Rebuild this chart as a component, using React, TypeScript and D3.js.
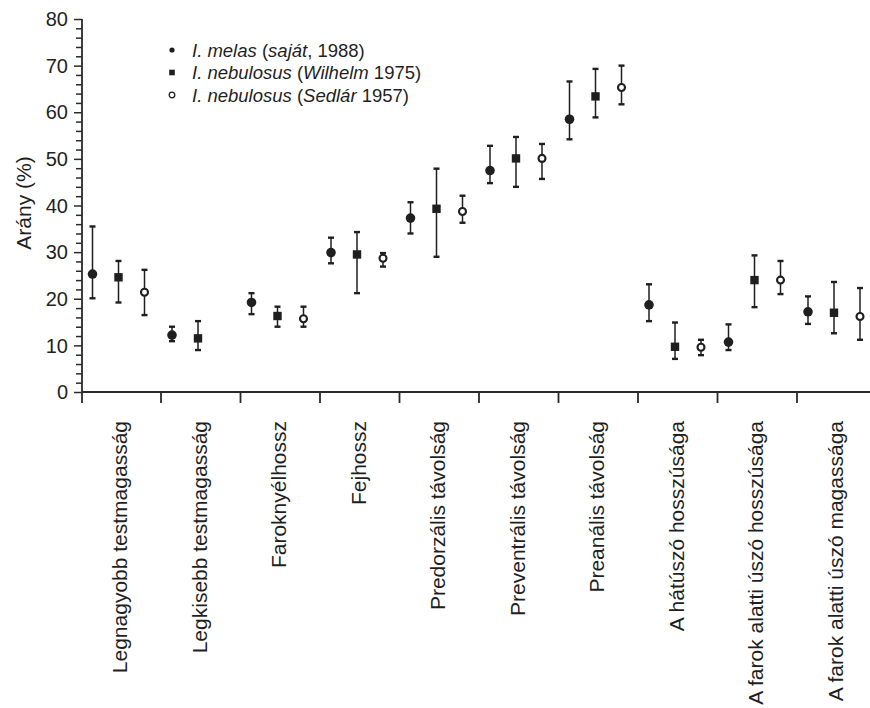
import React, { useEffect, useRef } from 'react'
import * as d3 from 'd3'

const categories = [
  'Legnagyobb testmagasság',
  'Legkisebb testmagasság',
  'Faroknyélhossz',
  'Fejhossz',
  'Predorzális távolság',
  'Preventrális távolság',
  'Preanális távolság',
  'A hátúszó hosszúsága',
  'A farok alatti úszó hosszúsága',
  'A farok alatti úszó magassága',
]

const series = ['melas', 'wilhelm', 'sedlar']

// I. melas (saját, 1988)
const melasMean = [25.3, 12.2, 19.2, 29.9, 37.3, 47.5, 58.5, 18.7, 10.7, 17.2]
const melasLow = [20.1, 10.9, 16.7, 27.6, 34.0, 44.8, 54.2, 15.2, 9.0, 14.6]
const melasHigh = [35.5, 14.0, 21.2, 33.1, 40.7, 52.8, 66.6, 23.1, 14.5, 20.5]

// I. nebulosus (Wilhelm 1975)
const wilhelmMean = [24.6, 11.5, 16.3, 29.5, 39.3, 50.1, 63.4, 9.7, 24.0, 17.0]
const wilhelmLow = [19.2, 9.0, 14.0, 21.2, 29.0, 44.0, 58.9, 7.1, 18.2, 12.6]
const wilhelmHigh = [28.1, 15.2, 18.3, 34.3, 47.9, 54.7, 69.3, 14.9, 29.3, 23.6]

// I. nebulosus (Sedlár 1957) - no value for Legkisebb testmagasság
const sedlarMean = [21.4, null, 15.7, 28.7, 38.7, 50.1, 65.3, 9.6, 24.0, 16.2]
const sedlarLow = [16.5, null, 14.0, 26.9, 36.3, 45.7, 61.7, 7.9, 21.0, 11.2]
const sedlarHigh = [26.2, null, 18.3, 29.8, 42.1, 53.2, 70.0, 11.2, 28.1, 22.3]

const yTicks = [0, 10, 20, 30, 40, 50, 60, 70, 80]

type Row = { cat: string; s: string; mean: number; low: number; high: number }

const ink = '#1f1f1f'
const font = "'Liberation Sans', Arial, Helvetica, sans-serif"

const Chart = () => {
  const ref = useRef<SVGSVGElement>(null)

  useEffect(() => {
    const svg = d3.select(ref.current)
    svg.selectAll('*').remove()

    const y = d3.scaleLinear().domain([0, 80]).range([392, 19])
    const x = d3.scaleBand().domain(categories).range([81.5, 876.5])
    const inner = d3.scalePoint().domain(series).range([11, 63])

    const rows: Row[] = []
    const add = (s: string, m: (number | null)[], lo: (number | null)[], hi: (number | null)[]) => {
      categories.forEach((c, i) => {
        if (m[i] == null) return
        rows.push({ cat: c, s, mean: m[i] as number, low: lo[i] as number, high: hi[i] as number })
      })
    }
    add('melas', melasMean, melasLow, melasHigh)
    add('wilhelm', wilhelmMean, wilhelmLow, wilhelmHigh)
    add('sedlar', sedlarMean, sedlarLow, sedlarHigh)

    const px = (d: Row) => (x(d.cat) as number) + (inner(d.s) as number)

    // y axis
    const yAxis = svg
      .append('g')
      .attr('transform', 'translate(82,0)')
      .call(
        d3
          .axisLeft(y)
          .tickValues(d3.range(0, 81, 2))
          .tickSize(6)
          .tickFormat(() => '')
      )
    yAxis.select('.domain').remove()
    yAxis.selectAll('line').attr('stroke', '#2a2a2a').attr('stroke-width', 1.5)
    yAxis
      .selectAll('.tick')
      .filter((d) => (d as number) % 10 === 0)
      .select('line')
      .attr('x2', -8)

    svg
      .append('line')
      .attr('x1', 82)
      .attr('x2', 82)
      .attr('y1', y(80))
      .attr('y2', 403)
      .attr('stroke', '#2a2a2a')
      .attr('stroke-width', 1.8)

    svg
      .selectAll('yTickLabels')
      .data(yTicks)
      .enter()
      .append('text')
      .attr('x', 68)
      .attr('y', (d) => y(d))
      .attr('dy', '0.36em')
      .attr('text-anchor', 'end')
      .style('font-family', font)
      .style('font-size', '20px')
      .attr('fill', ink)
      .text((d) => d)

    svg
      .append('text')
      .attr('transform', 'translate(31,203) rotate(-90)')
      .attr('text-anchor', 'middle')
      .style('font-family', font)
      .style('font-size', '21px')
      .attr('fill', ink)
      .text('Arány (%)')

    // x axis
    svg
      .append('line')
      .attr('x1', 82)
      .attr('x2', 870)
      .attr('y1', y(0))
      .attr('y2', y(0))
      .attr('stroke', '#2a2a2a')
      .attr('stroke-width', 2)

    svg
      .selectAll('xTicks')
      .data(categories.slice(1))
      .enter()
      .append('line')
      .attr('x1', (d) => x(d) as number)
      .attr('x2', (d) => x(d) as number)
      .attr('y1', y(0))
      .attr('y2', y(0) + 11)
      .attr('stroke', '#2a2a2a')
      .attr('stroke-width', 1.8)

    svg
      .selectAll('xLabels')
      .data(categories)
      .enter()
      .append('text')
      .attr('transform', (d) => `translate(${(x(d) as number) + x.bandwidth() / 2 + 6},421) rotate(-90)`)
      .attr('text-anchor', 'end')
      .style('font-family', font)
      .style('font-size', '21px')
      .attr('fill', ink)
      .text((d) => d)

    // error bars
    svg
      .selectAll('whiskers')
      .data(rows)
      .enter()
      .append('line')
      .attr('x1', px)
      .attr('x2', px)
      .attr('y1', (d) => y(d.low))
      .attr('y2', (d) => y(d.high))
      .attr('stroke', ink)
      .attr('stroke-width', 1.5)

    const caps = rows.flatMap((d) => [
      { r: d, v: d.low },
      { r: d, v: d.high },
    ])
    svg
      .selectAll('caps')
      .data(caps)
      .enter()
      .append('line')
      .attr('x1', (d) => px(d.r) - 3)
      .attr('x2', (d) => px(d.r) + 3)
      .attr('y1', (d) => y(d.v))
      .attr('y2', (d) => y(d.v))
      .attr('stroke', ink)
      .attr('stroke-width', 2.4)

    // markers
    const g = svg.append('g')
    rows.forEach((d) => {
      const cx = px(d)
      const cy = y(d.mean)
      if (d.s === 'melas') {
        g.append('circle').attr('cx', cx).attr('cy', cy).attr('r', 4.8).attr('fill', ink)
      } else if (d.s === 'wilhelm') {
        g.append('rect')
          .attr('x', cx - 4.2)
          .attr('y', cy - 4.2)
          .attr('width', 8.4)
          .attr('height', 8.4)
          .attr('fill', ink)
      } else {
        g.append('circle')
          .attr('cx', cx)
          .attr('cy', cy)
          .attr('r', 3.5)
          .attr('fill', '#fff')
          .attr('stroke', ink)
          .attr('stroke-width', 2.1)
      }
    })

    // legend
    const legendItems = [
      { s: 'melas', parts: [['I. melas', true], [' (', false], ['saját', true], [', 1988)', false]] },
      { s: 'wilhelm', parts: [['I. nebulosus', true], [' (', false], ['Wilhelm', true], [' 1975)', false]] },
      { s: 'sedlar', parts: [['I. nebulosus', true], [' (', false], ['Sedlár', true], [' 1957)', false]] },
    ]
    const legend = svg.append('g').attr('transform', 'translate(172,50)')
    legendItems.forEach((item, i) => {
      const ly = i * 22.5
      if (item.s === 'melas') {
        legend.append('circle').attr('cx', 0).attr('cy', ly).attr('r', 2.6).attr('fill', ink)
      } else if (item.s === 'wilhelm') {
        legend.append('rect').attr('x', -2.8).attr('y', ly - 2.8).attr('width', 5.6).attr('height', 5.6).attr('fill', ink)
      } else {
        legend.append('circle').attr('cx', 0).attr('cy', ly).attr('r', 2.8).attr('fill', '#fff').attr('stroke', ink).attr('stroke-width', 1.3)
      }
      const t = legend
        .append('text')
        .attr('x', 20)
        .attr('y', ly)
        .attr('dy', '0.36em')
        .style('font-family', font)
        .style('font-size', '18.5px')
        .attr('fill', ink)
      item.parts.forEach(([txt, it]) => {
        t.append('tspan')
          .style('font-style', it ? 'italic' : 'normal')
          .text(txt as string)
      })
    })
  }, [])

  return (
    <svg
      ref={ref}
      width={870}
      height={708}
      style={{ position: 'absolute', left: 0, top: 0, display: 'block', background: '#fff' }}
    />
  )
}

export default function App() {
  return <Chart />
}
